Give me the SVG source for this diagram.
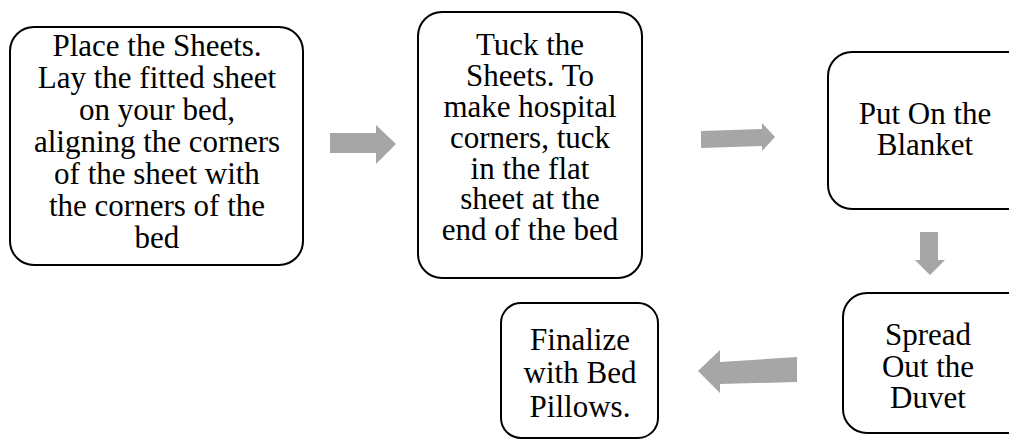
<svg xmlns="http://www.w3.org/2000/svg" width="1009" height="441" viewBox="0 0 1009 441">
<style>
.box{fill:#fff;stroke:#000;stroke-width:2}
.t{font-family:"Liberation Serif","Times New Roman",serif;font-size:31px;fill:#000;text-anchor:middle}
.arr{fill:#a6a6a6;stroke:none}
</style>
<rect width="1009" height="441" fill="#fff"/>
<g id="connectors">
<polygon class="arr" points="330,133 376,133 376,125 396,144 376,164 376,153 330,153"/>
<polygon class="arr" points="701,131 762,129 762,123 775,137 762,151 762,146 701,148"/>
<polygon class="arr" points="920,232 938,232 938,260 945,260 930,275 915,260 920,260"/>
<polygon class="arr" points="797,357 797,382 720,384 720,393 698,371 720,350 720,362"/>
</g>
<g id="node1">
<rect class="box" x="10" y="27" width="293" height="238" rx="24"/>
<text class="t"><tspan x="157" y="56">Place the Sheets.</tspan><tspan x="157" y="88">Lay the fitted sheet</tspan><tspan x="157" y="120">on your bed,</tspan><tspan x="157" y="152">aligning the corners</tspan><tspan x="157" y="184">of the sheet with</tspan><tspan x="157" y="216">the corners of the</tspan><tspan x="157" y="248">bed</tspan></text>
</g>
<g id="node2">
<rect class="box" x="418" y="12" width="224" height="266" rx="24"/>
<text class="t"><tspan x="530" y="55">Tuck the</tspan><tspan x="530" y="86">Sheets. To</tspan><tspan x="530" y="117">make hospital</tspan><tspan x="530" y="148">corners, tuck</tspan><tspan x="530" y="179">in the flat</tspan><tspan x="530" y="209">sheet at the</tspan><tspan x="530" y="240">end of the bed</tspan></text>
</g>
<g id="node3">
<rect class="box" x="828" y="52" width="205" height="157" rx="24"/>
<text class="t"><tspan x="925" y="124">Put On the</tspan><tspan x="925" y="155">Blanket</tspan></text>
</g>
<g id="node4">
<rect class="box" x="843" y="293" width="190" height="140" rx="24"/>
<text class="t"><tspan x="928" y="345">Spread</tspan><tspan x="928" y="377">Out the</tspan><tspan x="928" y="408">Duvet</tspan></text>
</g>
<g id="node5">
<rect class="box" x="501" y="303" width="157" height="135" rx="20"/>
<text class="t"><tspan x="580" y="350">Finalize</tspan><tspan x="580" y="383">with Bed</tspan><tspan x="580" y="417">Pillows.</tspan></text>
</g>
</svg>
